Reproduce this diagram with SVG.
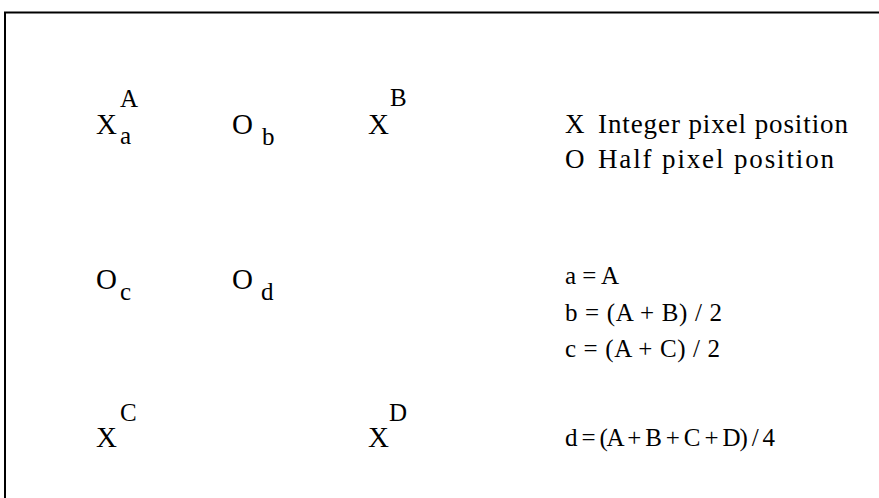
<svg xmlns="http://www.w3.org/2000/svg" width="879" height="498" viewBox="0 0 879 498">
<style>
text{font-family:"Liberation Serif","Times New Roman",serif;fill:#000;font-size:29px}
.s{font-size:25px}
.l{font-size:27px}
.f{font-size:25px}
</style>
<rect width="879" height="498" fill="#fff"/>
<g id="frame" fill="none" stroke="#000" stroke-width="2">
<path d="M5,499 V12.5 H879"/>
</g>
<g id="nodeA"><text x="96" y="134">X</text><text class="s" x="120" y="107">A</text><text class="s" x="120" y="144">a</text></g>
<g id="nodeb"><text x="232" y="134">O</text><text class="s" x="262" y="145">b</text></g>
<g id="nodeB"><text x="368" y="134">X</text><text class="s" x="390" y="106">B</text></g>
<g id="nodec"><text x="96" y="289">O</text><text class="s" x="120" y="300">c</text></g>
<g id="noded"><text x="232" y="289">O</text><text class="s" x="261" y="300">d</text></g>
<g id="nodeC"><text x="96" y="447">X</text><text class="s" x="120" y="421">C</text></g>
<g id="nodeD"><text x="368" y="447">X</text><text class="s" x="389" y="421">D</text></g>
<g id="legend">
<text class="l" x="565" y="133">X</text><text class="l" x="598" y="133" textLength="250" lengthAdjust="spacing">Integer pixel position</text>
<text class="l" x="565" y="168">O</text><text class="l" x="598" y="168" textLength="236" lengthAdjust="spacing">Half pixel position</text>
</g>
<g id="formulas">
<text class="f" x="565" y="284" textLength="54" lengthAdjust="spacing">a = A</text>
<text class="f" x="565" y="321" textLength="157" lengthAdjust="spacing">b = (A + B) / 2</text>
<text class="f" x="565" y="357" textLength="155" lengthAdjust="spacing">c = (A + C) / 2</text>
<text class="f" x="565" y="446" textLength="210" lengthAdjust="spacing">d = (A + B + C + D) / 4</text>
</g>
</svg>
